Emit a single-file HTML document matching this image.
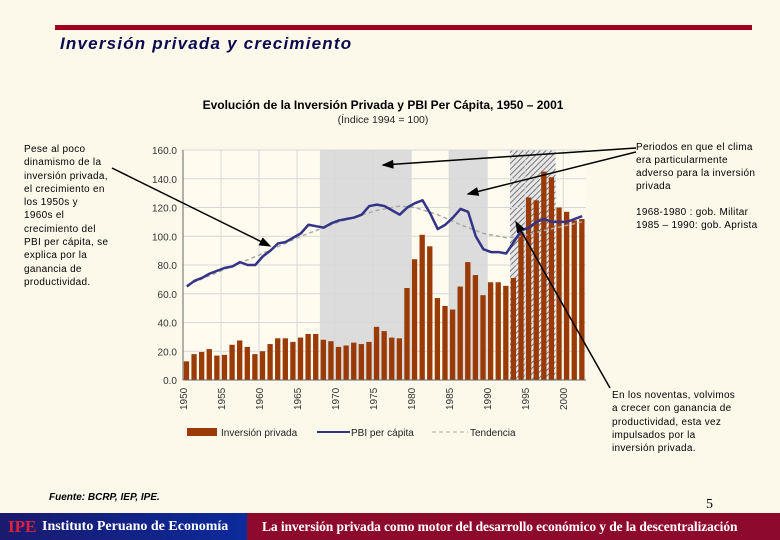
<!DOCTYPE html>
<html><head><meta charset="utf-8"><style>
body{margin:0;width:780px;height:540px;background:#fdf9ea;position:relative;overflow:hidden;font-family:"Liberation Sans",sans-serif}
.t{position:absolute;color:#000}
.n{letter-spacing:0.3px;white-space:nowrap}
</style></head><body>
<div style="position:absolute;left:55px;top:25px;width:697px;height:5px;background:#a0001e"></div>
<div class="t" style="left:60px;top:34px;font-size:17px;font-weight:bold;font-style:italic;color:#0a0a50;letter-spacing:1.2px">Inversión privada y crecimiento</div>
<div class="t" style="left:133px;top:98px;width:500px;text-align:center;font-size:12px;font-weight:bold">Evolución de la Inversión Privada y PBI Per Cápita, 1950 – 2001</div>
<div class="t" style="left:183px;top:114px;width:400px;text-align:center;font-size:10.5px;color:#222">(Índice 1994 = 100)</div>
<div class="t n" style="left:24px;top:143px;font-size:10px;line-height:13.3px">Pese al poco<br>dinamismo de la<br>inversión privada,<br>el crecimiento en<br>los 1950s y<br>1960s el<br>crecimiento del<br>PBI per cápita, se<br>explica por la<br>ganancia de<br>productividad.</div>
<div class="t n" style="left:636px;top:141px;font-size:10px;line-height:13px">Periodos en que el clima<br>era particularmente<br>adverso para la inversión<br>privada<br><br>1968-1980 : gob. Militar<br>1985 – 1990: gob. Aprista</div>
<div class="t n" style="left:612px;top:389px;font-size:10px;line-height:13.3px">En los noventas, volvimos<br>a crecer con ganancia de<br>productividad, esta vez<br>impulsados por la<br>inversión privada.</div>
<div class="t" style="left:49px;top:492px;font-size:10px;font-weight:bold;font-style:italic">Fuente: BCRP, IEP, IPE.</div>
<div class="t" style="left:706px;top:497px;font-size:14px;font-family:'Liberation Serif',serif">5</div>
<div style="position:absolute;left:0;top:513px;width:247px;height:27px;background:linear-gradient(90deg,#1a1a6e,#0c2a9a)"><span style="position:absolute;left:8px;top:4px;font-family:'Liberation Serif',serif;font-weight:bold;font-size:17px;color:#e0203a">IPE</span><span style="position:absolute;left:42px;top:6px;font-family:'Liberation Serif',serif;font-weight:bold;font-size:14px;color:#fff;white-space:nowrap">Instituto Peruano de Economía</span></div>
<div style="position:absolute;left:247px;top:513px;width:533px;height:27px;background:#8e0a2c;overflow:hidden"><span style="position:absolute;left:15px;top:6px;font-family:'Liberation Serif',serif;font-weight:bold;font-size:13.5px;color:#fff;letter-spacing:-0.1px;white-space:nowrap">La inversión privada como motor del desarrollo económico y de la descentralización</span></div>
<svg id="chart" width="780" height="540" style="position:absolute;left:0;top:0" xmlns="http://www.w3.org/2000/svg"></svg>
<script>
const years=[];for(let y=1950;y<=2002;y++)years.push(y);
const investment=[13,18,19.5,21.5,17,17.5,24.5,27.5,23,18,20,25,29,29,26.5,29.5,32,32,28,27,23,24,26,25,26.5,37,34,29.5,29,64,84,101,93,57,51.5,49,65,82,73,59,68,68,65.5,71,103,127,125,145,141,120,117,111,112];
const pbi=[65,69,71,74,76,78,79,82,80,80,86,90,95,96,99,102,108,107,106,109,111,112,113,115,121,122,121,118,115,120,123,125,116,105,108,113,119,117,100,91,89,89,88,96,104,106,110,112,110,110,110,112,114];
const trendIdx=[0,5,10,15,20,25,28,30,33,36,39,42,44,47,52];
const trendVal=[66,77,88,100,110,118,121,120,115,108,102,99,100,104,110];
const yTicks=[0,20,40,60,80,100,120,140,160];
const xTickYears=[1950,1955,1960,1965,1970,1975,1980,1985,1990,1995,2000];
const grayPeriods=[[1968,1979],[1985,1989]];
const hatchPeriod=[1993,1998];
const svg=document.getElementById('chart');const NS='http://www.w3.org/2000/svg';
const X0=183,X1=586,Y0=380,Y1=150,band=(X1-X0)/years.length;
const xs=i=>X0+i*band, yv=v=>Y0-(v/160)*(Y0-Y1), xy=y=>xs(y-1950);
function el(t,a,p){const e=document.createElementNS(NS,t);for(const k in a)e.setAttribute(k,a[k]);(p||svg).appendChild(e);return e}
const defs=el('defs',{});const pat=el('pattern',{id:'hatch',width:4,height:4,patternUnits:'userSpaceOnUse',patternTransform:'rotate(45)'},defs);
el('rect',{width:4,height:4,fill:'#e8e8e8'},pat);el('line',{x1:0,y1:0,x2:0,y2:4,stroke:'#777','stroke-width':2},pat);
const bg=el('rect',{x:X0,y:Y1,width:X1-X0,height:Y0-Y1,fill:'#fffbee'});


grayPeriods.forEach(p=>{const r=el('rect',{x:xy(p[0]),y:Y1,width:xy(p[1]+1)-xy(p[0]),height:Y0-Y1,fill:'#dcdcdc'});

});
const hr=el('rect',{x:xy(hatchPeriod[0]),y:Y1,width:xy(hatchPeriod[1]+1)-xy(hatchPeriod[0]),height:Y0-Y1,fill:'url(#hatch)'});


yTicks.forEach(t=>{el('line',{x1:X0,x2:X1,y1:yv(t),y2:yv(t),stroke:'#d8d8d8','stroke-width':1});
const tx=el('text',{x:X0-6,y:yv(t)+4,'text-anchor':'end','font-size':10,fill:'#333','font-family':'Liberation Sans'});tx.textContent=t.toFixed(1);

});
xTickYears.forEach(y=>{const x=xy(y);el('line',{x1:x,x2:x,y1:Y1,y2:Y0,stroke:'#d8d8d8'});
const tx=el('text',{transform:`translate(${x+4},${Y0+30}) rotate(-90)`,'font-size':10,fill:'#333','font-family':'Liberation Sans'});tx.textContent=y;

});
investment.forEach((v,i)=>{const r=el('rect',{x:xs(i)+0.8,y:yv(v),width:band*0.7,height:Y0-yv(v),fill:'#9a3a06'});

});
const tp=el('polyline',{points:trendIdx.map((k,j)=>`${xs(k)+band/2},${yv(trendVal[j])}`).join(' '),fill:'none',stroke:'#a8a8a8','stroke-width':1.5,'stroke-dasharray':'4,3'});


const lp=el('polyline',{points:pbi.map((v,i)=>`${xs(i)+band/2},${yv(v)}`).join(' '),fill:'none',stroke:'#333388','stroke-width':2.5,'stroke-linejoin':'round'});


el('line',{x1:X0,x2:X1,y1:Y0,y2:Y0,stroke:'#666'});el('line',{x1:X0,x2:X0,y1:Y1,y2:Y0,stroke:'#666'});
const lg=el('g',{});
el('rect',{x:187,y:428,width:30,height:8,fill:'#9a3a06'},lg);
el('line',{x1:317,x2:350,y1:432,y2:432,stroke:'#333388','stroke-width':2},lg);
el('line',{x1:432,x2:468,y1:432,y2:432,stroke:'#aaa','stroke-width':1,'stroke-dasharray':'4,3'},lg);
[['Inversión privada',221],['PBI per cápita',351],['Tendencia',470]].forEach(a=>{const t=el('text',{x:a[1],y:436,'font-size':10,fill:'#222','font-family':'Liberation Sans'},lg);t.textContent=a[0];});
const mk=el('marker',{id:'ah',markerWidth:8,markerHeight:6,refX:7,refY:3,orient:'auto'},defs);
el('path',{d:'M0,0 L8,3 L0,6z'},mk);
[[112,168,270,246],[636,148,383,165],[636,152,468,194],[610,388,516,222]].forEach(a=>{const l=el('line',{x1:a[0],y1:a[1],x2:a[2],y2:a[3],stroke:'#000','stroke-width':1.5,'marker-end':'url(#ah)'});

});
</script>
</body></html>
